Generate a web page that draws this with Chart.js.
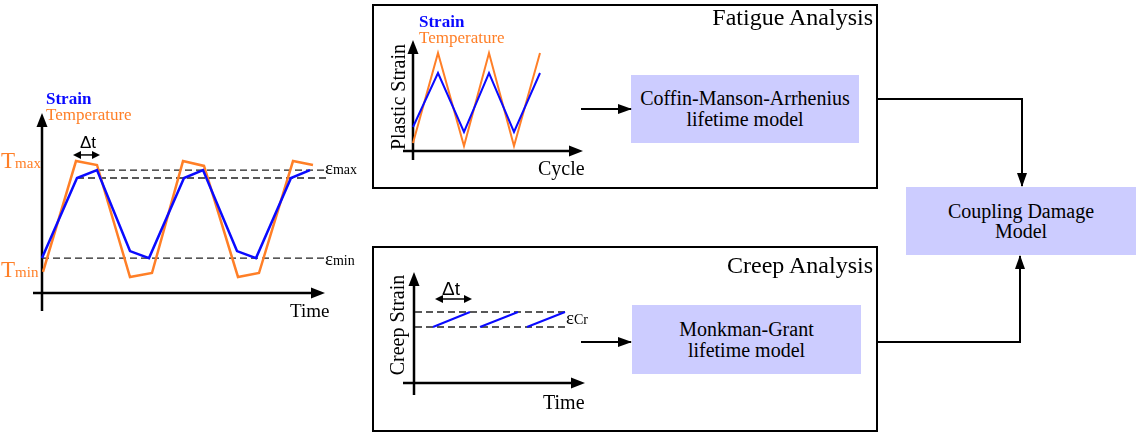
<!DOCTYPE html>
<html>
<head>
<meta charset="utf-8">
<script src="https://cdn.jsdelivr.net/npm/chart.js@4.4.0/dist/chart.umd.min.js"></script>
<style>
  body { margin: 0; background: #fff; }
  #page { position: relative; width: 1136px; height: 433px; overflow: hidden; font-family: "Liberation Serif", "Times New Roman", serif; color: #000; }
  #page canvas, #page svg { position: absolute; left: 0; top: 0; }
  .lbl { position: absolute; white-space: nowrap; line-height: 1; }
  .frame { position: absolute; box-sizing: border-box; border: 2px solid #000; }
  .model { position: absolute; background: #ccccff; display: flex; align-items: center; justify-content: center; text-align: center; font-size: 20px; line-height: 21px; }
  .rot { position: absolute; white-space: nowrap; font-size: 20px; line-height: 1; transform: translate(-50%, -50%) rotate(-90deg); }
  .sub { font-size: 15px; }
  .esub { font-size: 14px; }
  .orange { color: #ff7f27; }
  .blue { color: #0a0aff; }
</style>
</head>
<body>
<div id="page">
  <div class="frame" style="left:372px;top:4px;width:506px;height:185px"></div>
  <div class="frame" style="left:372px;top:246px;width:506px;height:186px"></div>
  <div class="model" style="left:631px;top:75px;width:228px;height:68px">Coffin-Manson-Arrhenius<br>lifetime model</div>
  <div class="model" style="left:632px;top:305px;width:229px;height:69px">Monkman-Grant<br>lifetime model</div>
  <div class="model" style="left:906px;top:187px;width:230px;height:68px;line-height:20px">Coupling Damage<br>Model</div>

  <svg width="1136" height="433">
    <defs>
      <marker id="ah" markerWidth="14" markerHeight="10" refX="13" refY="5" orient="auto" markerUnits="userSpaceOnUse">
        <path d="M0,0 L14,5 L0,10 Z" fill="#000"/>
      </marker>
    </defs>
    <g stroke="#000" stroke-width="2" fill="none">
      <line x1="581" y1="109" x2="631" y2="109" marker-end="url(#ah)"/>
      <line x1="581" y1="342" x2="631" y2="342" marker-end="url(#ah)"/>
      <polyline points="878,99 1022,99 1022,186" marker-end="url(#ah)"/>
      <polyline points="878,342 1020,342 1020,256" marker-end="url(#ah)"/>
    </g>
  </svg>

  <canvas id="cycleChart" width="1136" height="433"></canvas>
  <canvas id="fatigueChart" width="1136" height="433"></canvas>
  <canvas id="creepChart" width="1136" height="433"></canvas>

  <!-- left panel labels -->
  <div class="lbl blue" style="left:46px;top:90px;font-size:17px;font-weight:bold">Strain</div>
  <div class="lbl orange" style="left:46px;top:106px;font-size:17px">Temperature</div>
  <div class="lbl orange" style="left:1px;top:149px;font-size:23px">T<span class="sub">max</span></div>
  <div class="lbl orange" style="left:1px;top:258px;font-size:23px">T<span class="sub">min</span></div>
  <div class="lbl" style="left:80px;top:134px;font-size:17px;font-family:'Liberation Sans',sans-serif">Δt</div>
  <div class="lbl" style="left:325px;top:158px;font-size:19px">ε<span class="esub">max</span></div>
  <div class="lbl" style="left:325px;top:249px;font-size:19px">ε<span class="esub">min</span></div>
  <div class="lbl" style="left:290px;top:301px;font-size:19px">Time</div>

  <!-- fatigue panel labels -->
  <div class="lbl" style="right:263px;top:5px;font-size:24px">Fatigue Analysis</div>
  <div class="lbl blue" style="left:419px;top:13px;font-size:17px;font-weight:bold">Strain</div>
  <div class="lbl orange" style="left:419px;top:29px;font-size:17px">Temperature</div>
  <div class="rot" style="left:398px;top:97px">Plastic Strain</div>
  <div class="lbl" style="left:538px;top:158px;font-size:20px">Cycle</div>

  <!-- creep panel labels -->
  <div class="lbl" style="right:263px;top:253px;font-size:24px">Creep Analysis</div>
  <div class="rot" style="left:397px;top:325px">Creep Strain</div>
  <div class="lbl" style="left:442px;top:279px;font-size:19px;font-family:'Liberation Sans',sans-serif">Δt</div>
  <div class="lbl" style="left:566px;top:308px;font-size:19px">ε<span class="esub">Cr</span></div>
  <div class="lbl" style="left:543px;top:392px;font-size:20px">Time</div>
</div>

<script>
// left panel: temperature / strain over time (schematic units)
const tempTime = [0.1, 3.4, 5.5, 8.8, 11.0, 14.1, 16.2, 19.6, 21.7, 25.1, 27.1];
const tempValue = [11.7, 73.3, 71.1, 8.9, 11.1, 73.3, 70.6, 8.9, 11.1, 73.3, 71.1];
const strainTime = [0, 3.5, 5.5, 8.8, 10.7, 14.2, 16.1, 19.5, 21.4, 24.9, 26.8];
const strainValue = [19.4, 63.9, 68.3, 23.3, 19.4, 63.9, 68.3, 23.3, 19.4, 63.9, 68.3];
// dashed reference levels: [level, from, to]
const strainLevels = [[68.3, 5.5, 28.3], [63.9, 3.5, 28.6], [19.4, 0, 28.3]];
const cycleDelta = [3.1, 5.8, 76.7];

// fatigue panel
const fatigueCycle = [0, 1, 2.04, 3.04, 4.04, 5.08];
const fatigueTemp = [0.8, 9.8, 0.5, 9.8, 0.5, 9.8];
const fatigueStrain = [2.4, 7.8, 1.9, 7.8, 1.9, 7.8];

// creep panel
const creepStart = [1.9, 6.6, 11.3];
const creepEnd = [5.6, 10.4, 15.1];
const creepLow = 5.6;
const creepHigh = 7.1;
const creepLevels = [[creepHigh, 0.1, 15.1], [creepLow, 0.1, 15.1]];
const creepDelta = [2.1, 5.8, 8.4];

const ORANGE = '#ff7f27';
const BLUE = '#0a0aff';

function pts(xs, ys) {
    return xs.map((v, i) => ({x: v, y: ys[i]}));
}

function dashed(levels) {
    return levels.map(l => ({
        data: [{x: l[1], y: l[0]}, {x: l[2], y: l[0]}],
        borderColor: '#222',
        borderWidth: 1.3,
        borderDash: [7, 4],
        pointRadius: 0,
        order: 5
    }));
}

function head(ctx, x, y, dx, dy, len, half) {
    ctx.beginPath();
    ctx.moveTo(x, y);
    ctx.lineTo(x - dx * len - dy * half, y - dy * len + dx * half);
    ctx.lineTo(x - dx * len + dy * half, y - dy * len - dx * half);
    ctx.closePath();
    ctx.fill();
}

// draws the arrowed axes and the delta-t double arrows
const arrowPlugin = {
    id: 'arrows',
    beforeDatasetsDraw(chart, args, opts) {
        const {ctx} = chart;
        const xs = chart.scales.x, ys = chart.scales.y;
        const a = opts.axes;
        if (!a) return;
        const x0 = xs.getPixelForValue(0), y0 = ys.getPixelForValue(0);
        const yTop = ys.getPixelForValue(a.yTo), xEnd = xs.getPixelForValue(a.xTo);
        ctx.save();
        ctx.strokeStyle = '#000';
        ctx.fillStyle = '#000';
        ctx.lineWidth = 2.5;
        ctx.beginPath();
        ctx.moveTo(x0, ys.getPixelForValue(a.yFrom));
        ctx.lineTo(x0, yTop + 8);
        ctx.moveTo(xs.getPixelForValue(a.xFrom), y0);
        ctx.lineTo(xEnd - 8, y0);
        ctx.stroke();
        head(ctx, x0, yTop, 0, -1, 14, 5.5);
        head(ctx, xEnd, y0, 1, 0, 14, 5.5);
        ctx.restore();
    },
    afterDatasetsDraw(chart, args, opts) {
        const d = opts.delta;
        if (!d) return;
        const {ctx} = chart;
        const xs = chart.scales.x, ys = chart.scales.y;
        const x1 = xs.getPixelForValue(d[0]), x2 = xs.getPixelForValue(d[1]), y = ys.getPixelForValue(d[2]);
        ctx.save();
        ctx.strokeStyle = '#000';
        ctx.fillStyle = '#000';
        ctx.lineWidth = 1.5;
        ctx.beginPath();
        ctx.moveTo(x1 + 4, y);
        ctx.lineTo(x2 - 4, y);
        ctx.stroke();
        head(ctx, x1, y, -1, 0, 8, 4);
        head(ctx, x2, y, 1, 0, 8, 4);
        ctx.restore();
    }
};

function makeChart(id, datasets, area, xRange, yRange, arrows) {
    return new Chart(document.getElementById(id), {
        type: 'line',
        data: {datasets: datasets},
        options: {
            responsive: false,
            animation: false,
            events: [],
            layout: {padding: area},
            scales: {
                x: {type: 'linear', display: false, min: xRange[0], max: xRange[1]},
                y: {type: 'linear', display: false, min: yRange[0], max: yRange[1]}
            },
            plugins: {legend: {display: false}, tooltip: {enabled: false}, arrows: arrows},
            elements: {line: {tension: 0}}
        },
        plugins: [arrowPlugin]
    });
}

const creepData = [];
creepStart.forEach((s, i) => {
    creepData.push({x: s, y: creepLow}, {x: creepEnd[i], y: creepHigh}, {x: creepEnd[i], y: null});
});

makeChart('cycleChart', [
    {data: pts(strainTime, strainValue), borderColor: BLUE, borderWidth: 2.5, pointRadius: 0, order: 1},
    {data: pts(tempTime, tempValue), borderColor: ORANGE, borderWidth: 2.5, pointRadius: 0, order: 2}
].concat(dashed(strainLevels)),
    {left: 32, right: 804, top: 113, bottom: 122}, [-1, 29], [-10, 100],
    {axes: {xFrom: -0.9, xTo: 28.3, yFrom: -10, yTo: 100}, delta: cycleDelta});

makeChart('fatigueChart', [
    {data: pts(fatigueCycle, fatigueStrain), borderColor: BLUE, borderWidth: 2, pointRadius: 0, order: 1},
    {data: pts(fatigueCycle, fatigueTemp), borderColor: ORANGE, borderWidth: 2, pointRadius: 0, order: 2}
],
    {left: 403, right: 543, top: 40, bottom: 273}, [-0.4, 7.2], [-0.9, 11.1],
    {axes: {xFrom: -0.4, xTo: 6.8, yFrom: -0.9, yTo: 11.1}});

makeChart('creepChart', [
    {data: creepData, borderColor: BLUE, borderWidth: 2, pointRadius: 0, spanGaps: false, order: 1}
].concat(dashed(creepLevels)),
    {left: 403, right: 546, top: 272, bottom: 38}, [-1.1, 17.6], [-1.2, 11.1],
    {axes: {xFrom: -1.1, xTo: 17.1, yFrom: -1.2, yTo: 11.1}, delta: creepDelta});
</script>
</body>
</html>
